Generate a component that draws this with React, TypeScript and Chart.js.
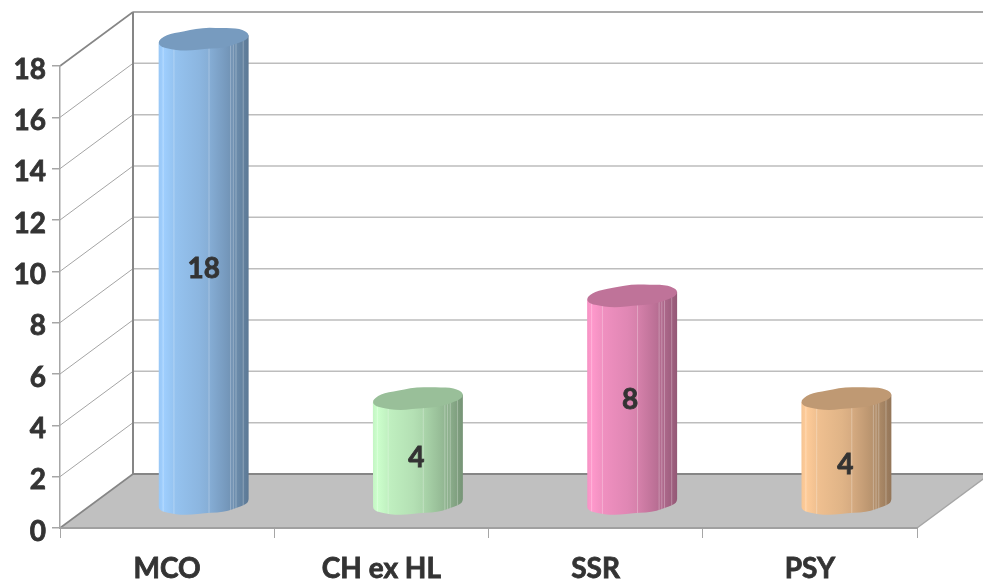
import React, { useEffect, useRef } from "react";
import { Chart, registerables } from "chart.js";

Chart.register(...registerables);

const categories = ["MCO", "CH ex HL", "SSR", "PSY"];
const values = [18, 4, 8, 4];
const baseColors: [number, number, number][] = [
  [159, 207, 255],
  [204, 255, 204],
  [255, 153, 204],
  [255, 204, 153],
];
const labelNudge: [number, number][] = [
  [0, 1],
  [-1.5, 10],
  [-2, 4],
  [-1, 17],
];

const DEPTH_X = 73;
const DEPTH_Y = -54;
const FONT = "Lato, 'Open Sans', sans-serif";
const TEXT = "#333333";

const shade = (c: [number, number, number], f: number) =>
  `rgb(${Math.round(c[0] * f)},${Math.round(c[1] * f)},${Math.round(c[2] * f)})`;

function line(ctx: CanvasRenderingContext2D, x1: number, y1: number, x2: number, y2: number, color: string, w: number) {
  ctx.strokeStyle = color;
  ctx.lineWidth = w;
  ctx.beginPath();
  ctx.moveTo(x1, y1);
  ctx.lineTo(x2, y2);
  ctx.stroke();
}

const wallsPlugin = {
  id: "walls",
  beforeDraw(chart: any) {
    const ctx = chart.ctx;
    const { left, right, top, bottom } = chart.chartArea;
    const y = chart.scales.y;
    ctx.save();
    // floor
    ctx.fillStyle = "#c0c0c0";
    ctx.beginPath();
    ctx.moveTo(left, bottom);
    ctx.lineTo(right, bottom);
    ctx.lineTo(right + DEPTH_X, bottom + DEPTH_Y);
    ctx.lineTo(left + DEPTH_X, bottom + DEPTH_Y);
    ctx.closePath();
    ctx.fill();
    // gridlines on side and back walls
    y.ticks.forEach((t: any) => {
      const py = y.getPixelForValue(t.value);
      if (t.value === 0) return;
      const isTop = t.value === y.max;
      line(ctx, left, py, left + DEPTH_X, py + DEPTH_Y, isTop ? "#868686" : "#a4a4a4", isTop ? 1.6 : 1);
      line(ctx, left + DEPTH_X, py + DEPTH_Y, right + DEPTH_X, py + DEPTH_Y, isTop ? "#8c8c8c" : "#bdbdbd", isTop ? 1.6 : 1.5);
    });
    // wall corners and floor edges
    line(ctx, left + DEPTH_X, top + DEPTH_Y, left + DEPTH_X, bottom + DEPTH_Y, "#868686", 2);
    line(ctx, left, bottom, left + DEPTH_X, bottom + DEPTH_Y, "#868686", 1.6);
    line(ctx, left + DEPTH_X, bottom + DEPTH_Y, right + DEPTH_X, bottom + DEPTH_Y, "#868686", 2);
    line(ctx, right, bottom, right + DEPTH_X, bottom + DEPTH_Y, "#a6a6a6", 1.5);
    ctx.restore();
  },
};

// Slightly blunt, slightly lobed cap outline: point at angle a around (cx, cy).
function capPoint(cx: number, cy: number, rx: number, ry: number, rot: number, a: number): [number, number] {
  const p = 2.15;
  const ca = Math.cos(a);
  const sa = Math.sin(a);
  const ex = rx * Math.sign(ca) * Math.pow(Math.abs(ca), 2 / p);
  const lobe = 1 + 0.035 * Math.sin(a * 7);
  const ey = ry * Math.sign(sa) * Math.pow(Math.abs(sa), 2 / p) * lobe;
  return [cx + ex * Math.cos(rot) - ey * Math.sin(rot), cy + ex * Math.sin(rot) + ey * Math.cos(rot)];
}

const STEPS = 48;
const FACETS = [0.05, 0.17, 0.56, 0.8, 0.83, 0.86, 0.94];

const cylinderPlugin = {
  id: "cylinders",
  afterDatasetsDraw(chart: any) {
    const ctx = chart.ctx;
    const meta = chart.getDatasetMeta(0);
    ctx.save();
    meta.data.forEach((el: any, i: number) => {
      const color = baseColors[i];
      const cx = el.x + DEPTH_X / 2;
      const topY = el.y + DEPTH_Y / 2;
      const baseY = el.base + DEPTH_Y / 2 + 3;
      const rx = el.width / 2;
      const ry = 10.5;
      const rot = -0.085;
      const dy = rx * Math.sin(rot);

      const grad = ctx.createLinearGradient(cx - rx, 0, cx + rx, 0);
      [
        [0, 0.96],
        [0.05, 1],
        [0.17, 0.94],
        [0.45, 0.88],
        [0.56, 0.84],
        [0.75, 0.74],
        [0.86, 0.68],
        [1, 0.58],
      ].forEach(([t, f]) => grad.addColorStop(t, shade(color, f)));

      ctx.save();
      const region = new Path2D();
      region.moveTo(cx - rx, topY - dy);
      region.lineTo(cx + rx, topY + dy);
      region.lineTo(cx + rx, baseY + dy);
      for (let k = 0; k <= STEPS / 2; k++) {
        const [px, py] = capPoint(cx, baseY, rx, ry, rot, (k / STEPS) * Math.PI * 2);
        region.lineTo(px, py);
      }
      region.closePath();
      ctx.clip(region);
      ctx.fillStyle = grad;
      ctx.fillRect(cx - rx - 1, topY - 20, rx * 2 + 2, baseY - topY + 40);
      FACETS.forEach((f) => {
        line(ctx, cx - rx + rx * 2 * f, topY - 20, cx - rx + rx * 2 * f, baseY + 20, "rgba(255,255,255,0.28)", 1);
      });
      ctx.restore();

      // top cap
      ctx.fillStyle = shade(color, 0.75);
      ctx.beginPath();
      for (let k = 0; k < STEPS; k++) {
        const [px, py] = capPoint(cx, topY, rx, ry, rot, (k / STEPS) * Math.PI * 2);
        if (k === 0) ctx.moveTo(px, py);
        else ctx.lineTo(px, py);
      }
      ctx.closePath();
      ctx.fill();

      // value label
      const lx = cx + labelNudge[i][0];
      const ly = (topY + baseY) / 2 - 3 + labelNudge[i][1];
      ctx.fillStyle = TEXT;
      ctx.strokeStyle = TEXT;
      ctx.lineWidth = 0.8;
      ctx.font = `bold 28px ${FONT}`;
      ctx.textAlign = "center";
      ctx.textBaseline = "middle";
      ctx.strokeText(String(values[i]), lx, ly);
      ctx.fillText(String(values[i]), lx, ly);
    });
    ctx.restore();
  },
};

export default function App() {
  const ref = useRef<HTMLCanvasElement>(null);
  useEffect(() => {
    document.body.style.margin = "0";
    const chart = new Chart(ref.current!, {
      type: "bar",
      data: {
        labels: categories,
        datasets: [
          {
            data: values,
            backgroundColor: "rgba(0,0,0,0)",
            barPercentage: 0.42,
            categoryPercentage: 1,
          },
        ],
      },
      plugins: [wallsPlugin, cylinderPlugin],
      options: {
        responsive: false,
        animation: false,
        devicePixelRatio: 1,
        layout: { padding: { top: 66, right: 66, left: 0, bottom: 0 } },
        plugins: { legend: { display: false }, tooltip: { enabled: false }, title: { display: false } },
        scales: {
          x: {
            afterFit: (s: any) => {
              s.height = 54;
            },
            border: { color: "#a0a0a0", width: 2 },
            grid: { drawOnChartArea: false, color: "#a6a6a6", tickLength: 10, lineWidth: 1 },
            ticks: {
              padding: 14,
              maxRotation: 0,
              autoSkip: false,
              color: TEXT,
              textStrokeColor: TEXT,
              textStrokeWidth: 0.8,
              font: { family: FONT, size: 28, weight: "bold" },
            },
          },
          y: {
            min: 0,
            max: 18,
            afterFit: (s: any) => {
              s.width = 60;
            },
            border: { color: "#a6a6a6", width: 1.5 },
            grid: { drawOnChartArea: false, color: "#a6a6a6", tickLength: 8, lineWidth: 1.5 },
            ticks: {
              stepSize: 2,
              padding: 6,
              labelOffset: 3.5,
              color: TEXT,
              textStrokeColor: TEXT,
              textStrokeWidth: 0.8,
              font: { family: FONT, size: 28, weight: "bold" },
            },
          },
        },
      },
    } as any);
    return () => chart.destroy();
  }, []);
  return <canvas ref={ref} width={983} height={582} style={{ display: "block" }} />;
}
